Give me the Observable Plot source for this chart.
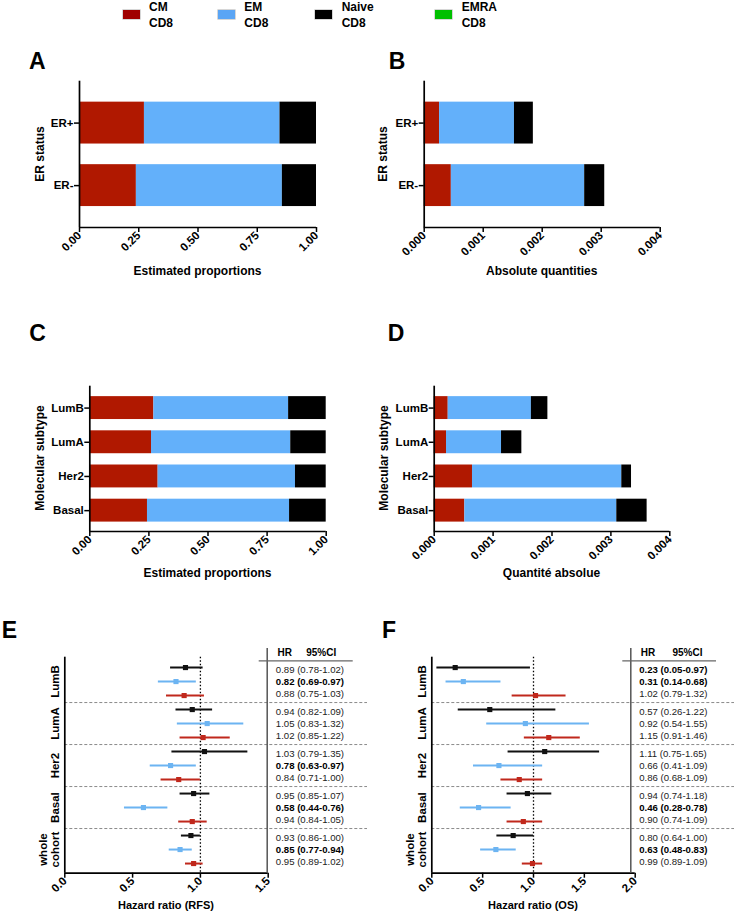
<!DOCTYPE html>
<html><head><meta charset="utf-8">
<script src="https://cdn.jsdelivr.net/npm/d3@7"></script>
<script src="https://cdn.jsdelivr.net/npm/@observablehq/plot@0.6"></script>
<style>
body{margin:0;background:#fff;}
#fig{position:relative;width:734px;height:914px;overflow:hidden;font-family:"Liberation Sans",Arial,sans-serif;color:#000;background:#fff;}
.letter{position:absolute;font-size:23px;font-weight:bold;line-height:23px;}
.title{position:absolute;font-weight:bold;white-space:nowrap;transform:translate(-50%,-50%);line-height:1;}
.vtitle{position:absolute;font-weight:bold;white-space:nowrap;transform:translate(-50%,-50%) rotate(-90deg);line-height:1;font-size:12px;}
.sw{position:absolute;width:17px;height:9px;}
.lt{position:absolute;font-size:12px;font-weight:bold;line-height:16px;}
svg text{font-family:"Liberation Sans",Arial,sans-serif;}
</style></head>
<body><div id="fig"></div>
<script>
// ---------- data ----------
const cellTypes = ["CM CD8", "EM CD8", "Naive CD8", "EMRA CD8"];
const barColors = ["#b01800", "#63b0fa", "#000000"];
const forestColors = ["#111111", "#6cb4f2", "#c0281c"]; // Naive, EM, CM rows
const forestTypes = ["Naive CD8", "EM CD8", "CM CD8"];

const erGroups = ["ER+", "ER-"];
// Panel A: estimated proportions
const propER_CM = [0.274, 0.240];
const propER_EM = [0.572, 0.616];
const propER_Naive = [0.154, 0.144];
// Panel B: absolute quantities
const absER_CM = [0.00026, 0.00046];
const absER_EM = [0.00127, 0.00226];
const absER_Naive = [0.00032, 0.00034];

const subtypes = ["LumB", "LumA", "Her2", "Basal"];
// Panel C
const propSub_CM = [0.271, 0.261, 0.289, 0.244];
const propSub_EM = [0.570, 0.589, 0.581, 0.601];
const propSub_Naive = [0.159, 0.150, 0.130, 0.155];
// Panel D
const absSub_CM = [0.000238, 0.000209, 0.00065, 0.00052];
const absSub_EM = [0.001412, 0.000934, 0.002535, 0.00258];
const absSub_Naive = [0.00028, 0.000345, 0.000165, 0.000515];

const propTicks = [0, 0.25, 0.5, 0.75, 1];
const absTicks = [0, 0.001, 0.002, 0.003, 0.004];

const forestGroups = ["LumB", "LumA", "Her2", "Basal", "whole\ncohort"];
// Panel E (RFS): per group rows Naive, EM, CM
const rfsHR = [0.89, 0.82, 0.88, 0.94, 1.05, 1.02, 1.03, 0.78, 0.84, 0.95, 0.58, 0.94, 0.93, 0.85, 0.95];
const rfsLo = [0.78, 0.69, 0.75, 0.82, 0.83, 0.85, 0.79, 0.63, 0.71, 0.85, 0.44, 0.84, 0.86, 0.77, 0.89];
const rfsHi = [1.02, 0.97, 1.03, 1.09, 1.32, 1.22, 1.35, 0.97, 1.00, 1.07, 0.76, 1.05, 1.00, 0.94, 1.02];
// Panel F (OS)
const osHR = [0.23, 0.31, 1.02, 0.57, 0.92, 1.15, 1.11, 0.66, 0.86, 0.94, 0.46, 0.90, 0.80, 0.63, 0.99];
const osLo = [0.05, 0.14, 0.79, 0.26, 0.54, 0.91, 0.75, 0.41, 0.68, 0.74, 0.28, 0.74, 0.64, 0.48, 0.89];
const osHi = [0.97, 0.68, 1.32, 1.22, 1.55, 1.46, 1.65, 1.09, 1.09, 1.18, 0.78, 1.09, 1.00, 0.83, 1.09];
const rfsTicks = [0, 0.5, 1, 1.5];
const osTicks = [0, 0.5, 1, 1.5, 2];

// ---------- helpers ----------
const FONT = '"Liberation Sans", Arial, sans-serif';
const fig = document.getElementById("fig");
function place(node, left, top) {
  node.style.position = "absolute";
  node.style.left = left + "px";
  node.style.top = top + "px";
  node.style.overflow = "visible";
  node.style.background = "transparent";
  fig.appendChild(node);
}
function addDiv(cls, html, left, top, extra = {}) {
  const d = document.createElement("div");
  d.className = cls;
  d.innerHTML = html;
  d.style.left = left + "px";
  d.style.top = top + "px";
  Object.assign(d.style, extra);
  fig.appendChild(d);
  return d;
}
const axisFont = {fontSize: 11.5, fontWeight: "bold", fontFamily: FONT};

function barPanel({groups, cm, em, naive, xMax, ticks, fmt, yDom, left, top, width, height, mL, mR, mT, mB}) {
  const rows = [];
  groups.forEach((g, i) => {
    const vals = [cm[i], em[i], naive[i]];
    let acc = 0;
    vals.forEach((v, k) => { rows.push({i, type: cellTypes[k], x1: acc, x2: acc + v}); acc += v; });
  });
  const half = 0.335;
  const p = Plot.plot({
    width, height, marginLeft: mL, marginRight: mR, marginTop: mT, marginBottom: mB,
    style: {fontFamily: FONT, fontSize: "11.5px", fontWeight: "bold", color: "#000", background: "transparent", overflow: "visible"},
    x: {domain: [0, xMax]},
    y: {domain: yDom, reverse: true},
    color: {domain: cellTypes.slice(0, 3), range: barColors},
    marks: [
      Plot.rect(rows, {x1: "x1", x2: "x2", y1: d => d.i - half, y2: d => d.i + half, fill: "type"}),
      Plot.ruleX([0], {strokeWidth: 1.7}),
      Plot.ruleY([yDom[1]], {strokeWidth: 1.7}),
      Plot.axisX({ticks, tickFormat: fmt, tickRotate: -45, tickSize: 5, tickPadding: 1, label: null, strokeWidth: 1.5, ...axisFont}),
      Plot.axisY({ticks: d3.range(groups.length), tickFormat: i => groups[i], tickSize: 5, tickPadding: 1, label: null, strokeWidth: 1.5, ...axisFont})
    ]
  });
  place(p, left, top);
}

function forestPanel({hr, lo, hi, xMax, ticks, left, top, width, height, mL, mR, mT, mB, tdx, lineDx, hdrDx, ulL, ulR}) {
  const rows = [];
  forestGroups.forEach((g, gi) => {
    forestTypes.forEach((t, r) => {
      const k = gi * 3 + r;
      rows.push({gi, r, idx: k, type: t, hr: hr[k], lo: lo[k], hi: hi[k],
        label: `${hr[k].toFixed(2)} (${lo[k].toFixed(2)}-${hi[k].toFixed(2)})`,
        sig: hi[k] < 1});
    });
  });
  const yDom = [-0.74, 14.69];
  const ty = d => d.gi * 3 + 1 + (d.r - 1) * 0.85;
  const p = Plot.plot({
    width, height, marginLeft: mL, marginRight: mR, marginTop: mT, marginBottom: mB,
    style: {fontFamily: FONT, fontSize: "11px", fontWeight: "bold", color: "#000", background: "transparent", overflow: "visible"},
    x: {domain: [0, xMax]},
    y: {domain: yDom, reverse: true, axis: null},
    color: {domain: forestTypes, range: forestColors},
    marks: [
      Plot.ruleY([2.5, 5.5, 8.5, 11.5], {stroke: "#8a8a8a", strokeDasharray: "3,2", strokeWidth: 1, insetRight: -mR}),
      Plot.ruleX([1], {stroke: "#000", strokeDasharray: "1.5,2", strokeWidth: 1.3}),
      Plot.ruleY(rows, {y: "idx", x1: "lo", x2: "hi", stroke: "type", strokeWidth: 2}),
      Plot.dot(rows, {x: "hr", y: "idx", fill: "type", symbol: "square", r: 2.9}),
      Plot.ruleX([0], {strokeWidth: 1.7}),
      Plot.ruleY([yDom[1]], {strokeWidth: 1.7}),
      Plot.ruleX([xMax], {y1: -1.36, y2: yDom[1], dx: lineDx, stroke: "#555", strokeWidth: 1.5}),
      Plot.ruleY([-0.48], {x1: xMax, x2: xMax, insetLeft: ulL, insetRight: ulR, stroke: "#666", strokeWidth: 1.3}),
      Plot.text(["HR"], {x: () => xMax, y: () => -1.09, dx: hdrDx[0], text: d => d, textAnchor: "start", fontSize: 10, fontWeight: "bold"}),
      Plot.text(["95%CI"], {x: () => xMax, y: () => -1.09, dx: hdrDx[1], text: d => d, textAnchor: "start", fontSize: 10, fontWeight: "bold"}),
      Plot.text(rows.filter(d => !d.sig), {x: () => xMax, y: ty, dx: tdx, text: "label", textAnchor: "start", fontSize: 9.6, fontWeight: "normal", fill: "#222"}),
      Plot.text(rows.filter(d => d.sig), {x: () => xMax, y: ty, dx: tdx, text: "label", textAnchor: "start", fontSize: 9.6, fontWeight: "bold", fill: "#000"}),
      Plot.text(forestGroups, {y: (d, i) => i * 3 + 1, frameAnchor: "left", dx: -6, rotate: -90, textAnchor: "middle", lineAnchor: "bottom", text: d => d, fontSize: 11.5, fontWeight: "bold", lineHeight: 1.05}),
      Plot.axisX({ticks, tickFormat: d3.format(".1f"), tickRotate: -45, tickSize: 5, tickPadding: 1, label: null, strokeWidth: 1.5, ...axisFont})
    ]
  });
  place(p, left, top);
}

// ---------- legend ----------
const legendX = [[122.7, 149], [218.3, 244.3], [315, 341.7], [435, 461.7]];
const legendColors = ["#a00000", "#5aa5f5", "#000000", "#00c000"];
cellTypes.forEach((t, i) => {
  const [sx, tx] = legendX[i];
  addDiv("sw", "", sx, 10, {background: legendColors[i], boxShadow: "0 0 0 0.6px #bbb"});
  const parts = t.split(" ");
  addDiv("lt", parts[0] + "<br>" + parts[1], tx, -1.5);
});

// ---------- panels ----------
barPanel({groups: erGroups, cm: propER_CM, em: propER_EM, naive: propER_Naive, xMax: 1, ticks: propTicks, fmt: d3.format(".2f"),
  yDom: [-0.67, 1.67], left: 0, top: 70, width: 367, height: 230, mL: 79, mR: 51, mT: 10.7, mB: 73});
barPanel({groups: erGroups, cm: absER_CM, em: absER_EM, naive: absER_Naive, xMax: 0.004, ticks: absTicks, fmt: d3.format(".3f"),
  yDom: [-0.67, 1.67], left: 367, top: 70, width: 367, height: 230, mL: 56.7, mR: 74.3, mT: 10.7, mB: 73});
barPanel({groups: subtypes, cm: propSub_CM, em: propSub_EM, naive: propSub_Naive, xMax: 1, ticks: propTicks, fmt: d3.format(".2f"),
  yDom: [-0.64, 3.61], left: 0, top: 360, width: 367, height: 230, mL: 89.3, mR: 41.3, mT: 25.7, mB: 59});
barPanel({groups: subtypes, cm: absSub_CM, em: absSub_EM, naive: absSub_Naive, xMax: 0.004, ticks: absTicks, fmt: d3.format(".3f"),
  yDom: [-0.64, 3.61], left: 367, top: 360, width: 367, height: 230, mL: 66.7, mR: 64.7, mT: 25.7, mB: 59});
forestPanel({hr: rfsHR, lo: rfsLo, hi: rfsHi, xMax: 1.5, ticks: rfsTicks, left: 0, top: 600, width: 367, height: 314,
  mL: 64.3, mR: 99.3, mT: 56.7, mB: 41.3, tdx: 7.6, lineDx: -1, hdrDx: [9.3, 38], ulL: -9, ulR: -85});
forestPanel({hr: osHR, lo: osLo, hi: osHi, xMax: 2, ticks: osTicks, left: 367, top: 600, width: 367, height: 314,
  mL: 64.3, mR: 99.3, mT: 56.7, mB: 41.3, tdx: 4, lineDx: -4.4, hdrDx: [5.6, 37.3], ulL: -12.4, ulR: -81.3});

// ---------- letters & titles ----------
addDiv("letter", "A", 29, 50);
addDiv("letter", "B", 388.7, 50);
addDiv("letter", "C", 29.3, 322);
addDiv("letter", "D", 387.7, 322);
addDiv("letter", "E", 1.7, 619);
addDiv("letter", "F", 382, 619);

addDiv("title", "Estimated proportions", 197.5, 271, {fontSize: "12px"});
addDiv("title", "Absolute quantities", 541.7, 271, {fontSize: "12px"});
addDiv("title", "Estimated proportions", 207.5, 573, {fontSize: "12px"});
addDiv("title", "Quantité absolue", 551.5, 573, {fontSize: "12px"});
addDiv("title", "Hazard ratio (RFS)", 166, 905, {fontSize: "11px"});
addDiv("title", "Hazard ratio (OS)", 533, 905, {fontSize: "11px"});
addDiv("vtitle", "ER status", 40, 154);
addDiv("vtitle", "ER status", 383.2, 154);
addDiv("vtitle", "Molecular subtype", 40, 458.3);
addDiv("vtitle", "Molecular subtype", 383.7, 458.3);
</script>
</body></html>
